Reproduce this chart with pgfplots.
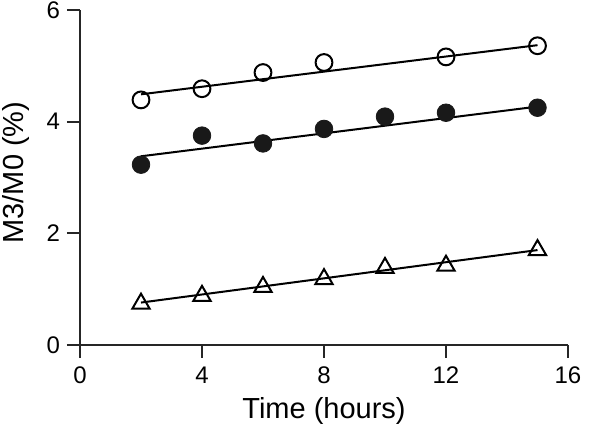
\documentclass[border=0pt]{standalone}
\usepackage{fontspec}
\setmainfont{Liberation Sans}
\usepackage{pgfplots}
\pgfplotsset{compat=1.18}

\begin{document}
\begin{tikzpicture}
\begin{axis}[
  scale only axis,
  width=244pt, height=167.5pt,
  xmin=0, xmax=16, ymin=0, ymax=6,
  axis lines*=left,
  axis line style={line width=0.9pt, black!85},
  xtick={0,4,8,12,16}, ytick={0,2,4,6},
  tick align=outside, major tick length=6.5pt,
  tick style={line width=0.9pt, black!85},
  ticklabel style={font=\fontsize{12}{14}\selectfont},
  /pgf/number format/assume math mode=true,
  xticklabel style={yshift=-1pt},
  xlabel={Time (hours)},
  ylabel={M3/M0 (\%)},
  label style={font=\fontsize{14.5}{16}\selectfont},
  xlabel style={at={(axis description cs:0.5,0)}, anchor=center, yshift=-33pt},
  ylabel style={at={(axis description cs:0,0.5)}, anchor=center, yshift=32pt, xshift=2.5pt},
  clip=false,
]
% open circles
\addplot[only marks, mark=o, mark size=4.2pt, line width=1pt] coordinates {
  (2,4.39) (4,4.59) (6,4.88) (8,5.06) (12,5.16) (15,5.36)};
\addplot[no marks, line width=1pt] coordinates {(2,4.49) (15,5.37)};
% filled circles
\addplot[only marks, mark=*, mark size=4.4pt, draw=black!90, fill=black!90] coordinates {
  (2,3.23) (4,3.75) (6,3.61) (8,3.87) (10,4.09) (12,4.16) (15,4.25)};
\addplot[no marks, line width=1pt] coordinates {(2,3.38) (15,4.27)};
% triangles
\addplot[only marks, mark=triangle, mark size=5pt, line width=1pt] coordinates {
  (2,0.74) (4,0.88) (6,1.04) (8,1.18) (10,1.38) (12,1.42) (15,1.70)};
\addplot[no marks, line width=1pt] coordinates {(2,0.76) (15,1.70)};
\end{axis}
\pgfresetboundingbox
\path (-40pt,-44pt) rectangle (260pt,172.5pt);
\end{tikzpicture}
\end{document}
